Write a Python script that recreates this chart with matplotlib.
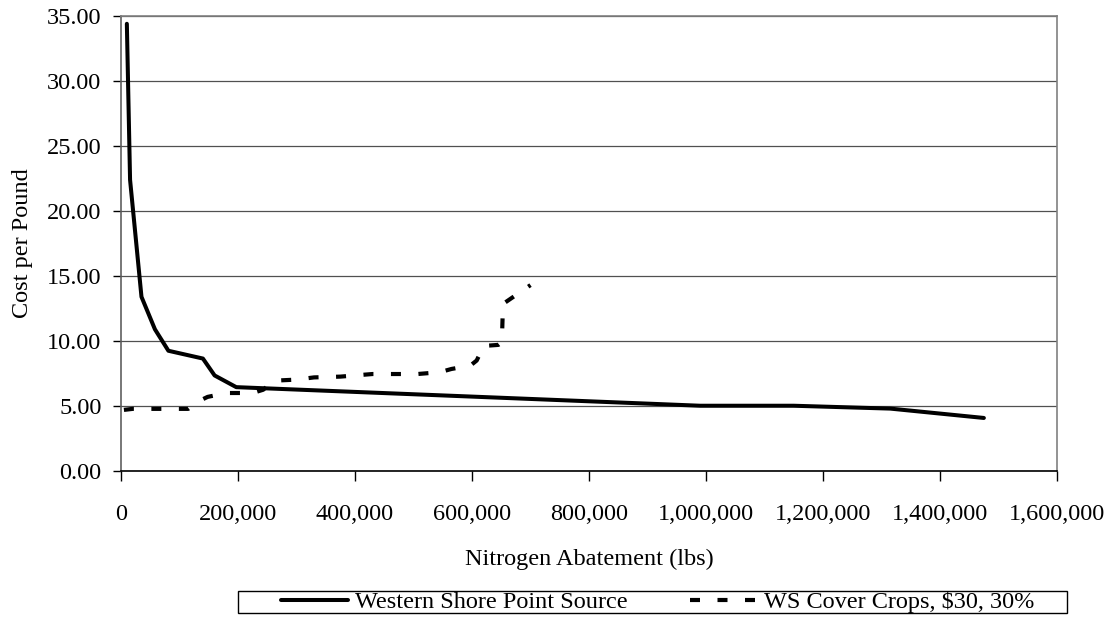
import matplotlib
matplotlib.use("Agg")
import matplotlib.pyplot as plt
from matplotlib.ticker import FuncFormatter, MultipleLocator
from matplotlib.patches import Rectangle
from matplotlib.lines import Line2D

# Data
ps_x = [10000, 15500, 35000, 58000, 81000, 140000, 160000, 197000, 990000, 1150000, 1315000, 1475000]
ps_y = [34.4, 22.4, 13.4, 10.9, 9.25, 8.65, 7.35, 6.45, 5.02, 5.02, 4.8, 4.08]

cc_x = [5000, 20000, 115000, 132000, 148000, 180000, 225000, 243000, 262000, 300000, 330000,
        375000, 430000, 507000, 545000, 565000, 597000, 608000, 620000, 645000, 651000, 653000, 700000]
cc_y = [4.70, 4.78, 4.78, 5.35, 5.70, 6.00, 6.00, 6.25, 6.95, 7.03, 7.20,
        7.26, 7.46, 7.46, 7.60, 7.85, 8.10, 8.50, 9.62, 9.70, 9.90, 12.85, 14.30]

series_names = ["Western Shore Point Source", "WS Cover Crops, $30, 30%"]
x_label = "Nitrogen Abatement (lbs)"
y_label = "Cost per Pound"

plt.rcParams['font.family'] = ['Liberation Serif', 'DejaVu Serif']
FS = 17.5
W, H = 1113, 621

fig = plt.figure(figsize=(W/100, H/100), dpi=100)
ax = fig.add_axes([121/W, 1 - 471/H, (1057-121)/W, (471-16)/H])

ax.set_xlim(0, 1600000)
ax.set_ylim(0, 35)
ax.yaxis.set_major_locator(MultipleLocator(5))
ax.xaxis.set_major_locator(MultipleLocator(200000))
ax.yaxis.set_major_formatter(FuncFormatter(lambda v, p: f"{v:.2f}"))
ax.xaxis.set_major_formatter(FuncFormatter(lambda v, p: f"{int(v):,}"))

ax.grid(axis='y', color='#505050', linewidth=0.9)
ax.set_axisbelow(True)
for s in ax.spines.values():
    s.set_color('#808080')
    s.set_linewidth(1.2)
ax.spines['bottom'].set_color('black')
ax.spines['left'].set_color('#606060')

ax.tick_params(axis='both', direction='out', width=1, colors='black', labelsize=FS)
ax.tick_params(axis='x', length=7, pad=17)
ax.tick_params(axis='y', length=6, pad=8)

ax.plot(ps_x, ps_y, color='black', linewidth=2.9, solid_joinstyle='round',
        solid_capstyle='round')
ax.plot(cc_x, cc_y, color='black', linewidth=3.0, linestyle=(0, (2.4, 4.2)),
        dash_capstyle='butt')

ax.set_xlabel(x_label, fontsize=FS, labelpad=17)
ax.set_ylabel(y_label, fontsize=FS, labelpad=10)

# Legend frame
fig.patches.append(Rectangle((238/W, 1 - 613/H), (1067-238)/W, (613-591)/H,
                             transform=fig.transFigure, fill=False,
                             edgecolor='black', linewidth=1.0))
handles = [Line2D([], [], color='black', linewidth=2.9, solid_capstyle='round'),
           Line2D([], [], color='black', linewidth=3.0, linestyle=(0, (2.4, 4.2)),
                  dash_capstyle='butt')]
starts = [281, 690]
ycen = 1 - 602/H
for h, name, xs in zip(handles, series_names, starts):
    lg = fig.legend([h], [name], loc='center left', bbox_to_anchor=(xs/W, ycen),
                    frameon=False, fontsize=FS, handlelength=2.75, handletextpad=0.3,
                    borderpad=0, borderaxespad=0)

fig.savefig("out.png", dpi=100)
